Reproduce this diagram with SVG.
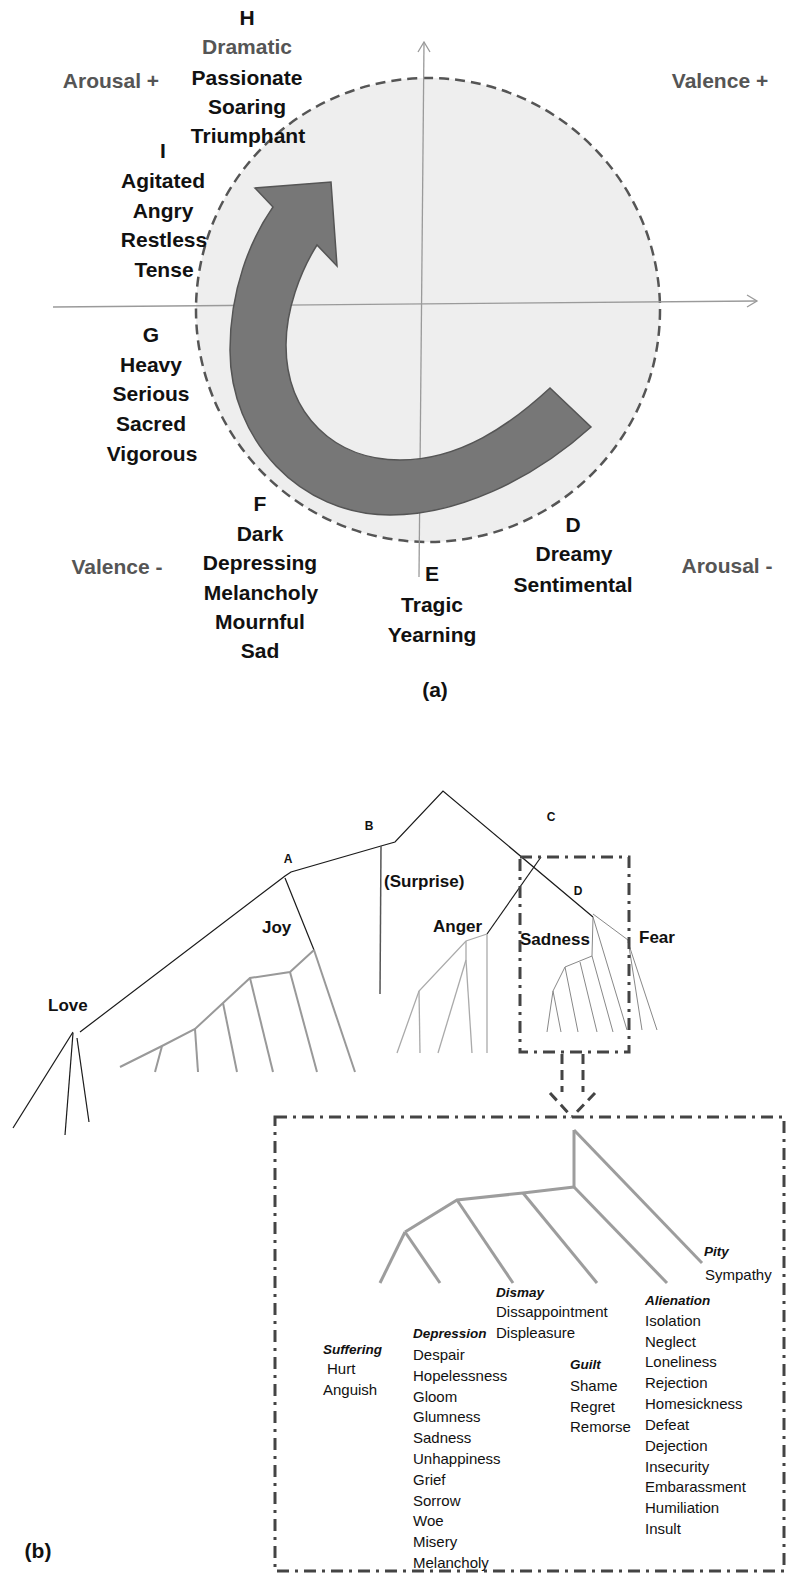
<svg xmlns="http://www.w3.org/2000/svg" width="788" height="1573" viewBox="0 0 788 1573">
<defs>
<style>
.lbl{font-family:"Liberation Sans",Arial,sans-serif;font-weight:bold;font-size:21px;fill:#111;text-anchor:middle}
.gry{fill:#555}
.ax{stroke:#9a9a9a;stroke-width:1.3;fill:none}
.blk{stroke:#1a1a1a;stroke-width:1.2;fill:none}
.g1{stroke:#999;stroke-width:2;fill:none}
.g2{stroke:#aaa;stroke-width:1.3;fill:none}
.g3{stroke:#888;stroke-width:1;fill:none}
.g4{stroke:#9d9d9d;stroke-width:3;fill:none}
.tl{font-family:"Liberation Sans",Arial,sans-serif;font-weight:bold;font-size:17px;fill:#111}
.sm{font-family:"Liberation Sans",Arial,sans-serif;font-weight:bold;font-size:12px;fill:#111;text-anchor:middle}
.dd{stroke:#444;stroke-width:3;fill:none;stroke-dasharray:12 6 3 6}
.dsh{stroke:#444;stroke-width:3;fill:none;stroke-dasharray:10 6}
.it{font-family:"Liberation Sans",Arial,sans-serif;font-style:italic;font-weight:bold;font-size:13.5px;fill:#111}
.rg{font-family:"Liberation Sans",Arial,sans-serif;font-size:15px;fill:#111}
</style>
</defs>
<rect width="788" height="1573" fill="#fff"/>

<g id="part-a">
<g id="circle"><circle cx="428" cy="310" r="232" fill="#eeeeee" stroke="#555" stroke-width="2.5" stroke-dasharray="10 6"/></g>
<g id="axes">
<line class="ax" x1="53" y1="307" x2="757" y2="301"/>
<polyline class="ax" points="747,295 757,301 747,307"/>
<line class="ax" x1="424" y1="42" x2="419" y2="577"/>
<polyline class="ax" points="418,52 424,42 430,52"/>
</g>
<g id="curved-arrow">
<path d="M550,388 L591,427 C530,482 455,515 390,515 C300,515 230,440 230,350 C230,290 250,240 273,207 L255,188 L331,182 L337,266 L317,245 C300,272 286,310 286,345 C286,415 335,460 400,460 C460,460 510,425 550,388 Z" fill="#777" stroke="#555" stroke-width="1.5"/>
</g>
<g id="H-group">
<text class="lbl" x="247" y="25">H</text>
<text class="lbl gry" x="247" y="54">Dramatic</text>
<text class="lbl" x="247" y="85">Passionate</text>
<text class="lbl" x="247" y="114">Soaring</text>
<text class="lbl" x="248" y="143">Triumphant</text>
</g>
<g id="I-group">
<text class="lbl" x="163" y="158">I</text>
<text class="lbl" x="163" y="188">Agitated</text>
<text class="lbl" x="163" y="218">Angry</text>
<text class="lbl" x="164" y="247">Restless</text>
<text class="lbl" x="164" y="277">Tense</text>
</g>
<g id="G-group">
<text class="lbl" x="151" y="342">G</text>
<text class="lbl" x="151" y="372">Heavy</text>
<text class="lbl" x="151" y="401">Serious</text>
<text class="lbl" x="151" y="431">Sacred</text>
<text class="lbl" x="152" y="461">Vigorous</text>
</g>
<g id="F-group">
<text class="lbl" x="260" y="511">F</text>
<text class="lbl" x="260" y="541">Dark</text>
<text class="lbl" x="260" y="570">Depressing</text>
<text class="lbl" x="261" y="600">Melancholy</text>
<text class="lbl" x="260" y="629">Mournful</text>
<text class="lbl" x="260" y="658">Sad</text>
</g>
<g id="E-group">
<text class="lbl" x="432" y="581">E</text>
<text class="lbl" x="432" y="612">Tragic</text>
<text class="lbl" x="432" y="642">Yearning</text>
</g>
<g id="D-group">
<text class="lbl" x="573" y="532">D</text>
<text class="lbl" x="574" y="561">Dreamy</text>
<text class="lbl" x="573" y="592">Sentimental</text>
</g>
<g id="axis-labels">
<text class="lbl gry" x="111" y="88">Arousal +</text>
<text class="lbl gry" x="720" y="88">Valence +</text>
<text class="lbl gry" x="117" y="574">Valence -</text>
<text class="lbl gry" x="727" y="573">Arousal -</text>
</g>
<text class="lbl" x="435" y="697" font-size="20">(a)</text>
</g>

<g id="part-b">
<g id="connectors">
<polyline class="blk" points="80,1032 285,876 291,872 381,846 395,842 443,791 593,917"/>
<line x1="381" y1="846" x2="380" y2="994" stroke="#555" stroke-width="1.5"/>
<line class="blk" x1="285" y1="878" x2="314" y2="950"/>
<line class="blk" x1="541" y1="857" x2="487" y2="934"/>
<line class="blk" x1="73" y1="1032" x2="13" y2="1128"/>
<line class="blk" x1="73" y1="1033" x2="65" y2="1135"/>
<line class="blk" x1="77" y1="1038" x2="89" y2="1122"/>
<g id="joy-subtree">
<polyline class="g1" points="314,950 290,972 250,978 223,1003 195,1029 162,1046 120,1067"/>
<line class="g1" x1="314" y1="950" x2="355" y2="1072"/>
<line class="g1" x1="290" y1="972" x2="317" y2="1072"/>
<line class="g1" x1="250" y1="978" x2="273" y2="1072"/>
<line class="g1" x1="223" y1="1003" x2="237" y2="1072"/>
<line class="g1" x1="195" y1="1029" x2="198" y2="1072"/>
<line class="g1" x1="162" y1="1046" x2="155" y2="1072"/>
</g>
<g id="anger-subtree">
<polyline class="g2" points="487,934 466,941 419,991 397,1053"/>
<line class="g2" x1="419" y1="991" x2="420" y2="1053"/>
<line class="g2" x1="466" y1="941" x2="466" y2="960"/>
<line class="g2" x1="466" y1="960" x2="438" y2="1053"/>
<line class="g2" x1="466" y1="960" x2="472" y2="1053"/>
<line class="g2" x1="487" y1="934" x2="487" y2="1053"/>
</g>
<g id="sadness-subtree">
<polyline class="g3" points="593,917 592,956 565,967 553,991 547,1032"/>
<line class="g3" x1="553" y1="991" x2="561" y2="1032"/>
<line class="g3" x1="565" y1="967" x2="578" y2="1032"/>
<line class="g3" x1="580" y1="962" x2="597" y2="1032"/>
<line class="g3" x1="592" y1="956" x2="613" y2="1032"/>
<line class="g3" x1="593" y1="917" x2="627" y2="1030"/>
</g>
<g id="fear-subtree">
<line class="g3" x1="593" y1="914" x2="628" y2="940"/>
<line class="g3" x1="628" y1="940" x2="642" y2="1030"/>
<line class="g3" x1="628" y1="942" x2="657" y2="1030"/>
</g>
<g id="zoom-arrow">
<line class="dsh" x1="562" y1="1054" x2="562" y2="1092"/>
<line class="dsh" x1="583" y1="1054" x2="583" y2="1092"/>
<line class="dsh" x1="550" y1="1093" x2="572" y2="1117"/>
<line class="dsh" x1="595" y1="1093" x2="572" y2="1117"/>
</g>
<g id="inner-tree">
<line class="g4" x1="574" y1="1130" x2="574" y2="1187"/>
<line class="g4" x1="574" y1="1130" x2="702" y2="1263"/>
<polyline class="g4" points="574,1187 523,1193 457,1200 405,1232" stroke-width="2"/>
<line class="g4" x1="405" y1="1232" x2="380" y2="1283"/>
<line class="g4" x1="405" y1="1232" x2="440" y2="1283"/>
<line class="g4" x1="457" y1="1200" x2="513" y2="1283"/>
<line class="g4" x1="523" y1="1193" x2="597" y2="1283"/>
<line class="g4" x1="574" y1="1187" x2="667" y2="1283"/>
</g>
</g>
<g id="sadness-box"><rect class="dd" x="520" y="857" width="109" height="195"/></g>
<g id="detail-box"><rect class="dd" x="275" y="1117" width="509" height="454"/></g>
<g id="node-labels">
<text class="tl" x="48" y="1011">Love</text>
<text class="tl" x="262" y="933">Joy</text>
<text class="tl" x="384" y="887">(Surprise)</text>
<text class="tl" x="433" y="932">Anger</text>
<text class="tl" x="520" y="945">Sadness</text>
<text class="tl" x="639" y="943">Fear</text>
<text class="sm" x="288" y="863">A</text>
<text class="sm" x="369" y="830">B</text>
<text class="sm" x="551" y="821">C</text>
<text class="sm" x="578" y="895">D</text>
</g>
<g id="suffering">
<text class="it" x="323" y="1354">Suffering</text>
<text class="rg" x="327" y="1374">Hurt</text>
<text class="rg" x="323" y="1395">Anguish</text>
</g>
<g id="depression">
<text class="it" x="413" y="1338">Depression</text>
<text class="rg" x="413" y="1360">Despair</text>
<text class="rg" x="413" y="1381">Hopelessness</text>
<text class="rg" x="413" y="1402">Gloom</text>
<text class="rg" x="413" y="1422">Glumness</text>
<text class="rg" x="413" y="1443">Sadness</text>
<text class="rg" x="413" y="1464">Unhappiness</text>
<text class="rg" x="413" y="1485">Grief</text>
<text class="rg" x="413" y="1506">Sorrow</text>
<text class="rg" x="413" y="1526">Woe</text>
<text class="rg" x="413" y="1547">Misery</text>
<text class="rg" x="413" y="1568">Melancholy</text>
</g>
<g id="dismay">
<text class="it" x="496" y="1297">Dismay</text>
<text class="rg" x="496" y="1317">Dissappointment</text>
<text class="rg" x="496" y="1338">Displeasure</text>
</g>
<g id="guilt">
<text class="it" x="570" y="1369">Guilt</text>
<text class="rg" x="570" y="1391">Shame</text>
<text class="rg" x="570" y="1412">Regret</text>
<text class="rg" x="570" y="1432">Remorse</text>
</g>
<g id="alienation">
<text class="it" x="645" y="1305">Alienation</text>
<text class="rg" x="645" y="1326">Isolation</text>
<text class="rg" x="645" y="1347">Neglect</text>
<text class="rg" x="645" y="1367">Loneliness</text>
<text class="rg" x="645" y="1388">Rejection</text>
<text class="rg" x="645" y="1409">Homesickness</text>
<text class="rg" x="645" y="1430">Defeat</text>
<text class="rg" x="645" y="1451">Dejection</text>
<text class="rg" x="645" y="1472">Insecurity</text>
<text class="rg" x="645" y="1492">Embarassment</text>
<text class="rg" x="645" y="1513">Humiliation</text>
<text class="rg" x="645" y="1534">Insult</text>
</g>
<g id="pity">
<text class="it" x="704" y="1256">Pity</text>
<text class="rg" x="705" y="1280">Sympathy</text>
</g>
<text class="lbl" x="38" y="1558" font-size="20">(b)</text>
</g>
</svg>
